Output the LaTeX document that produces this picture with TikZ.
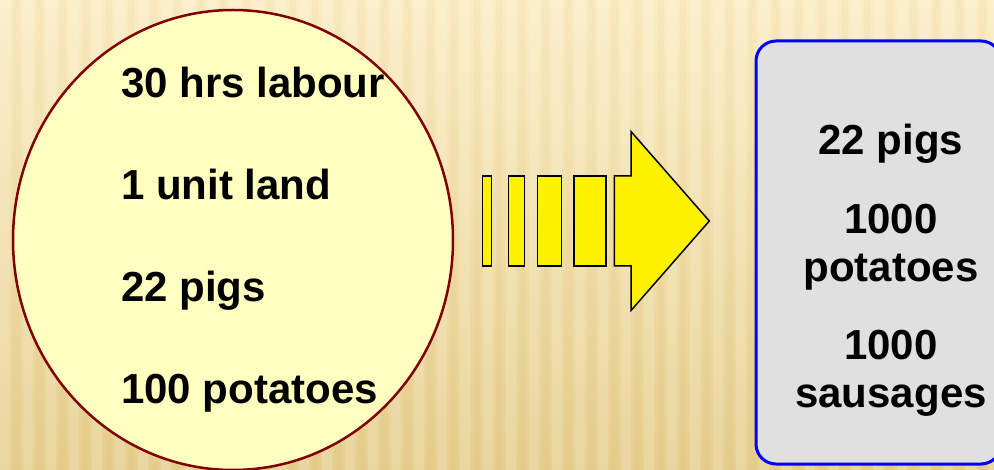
\documentclass[tikz,border=0pt]{standalone}
\usepackage{fontspec}
\setmainfont{Liberation Sans}
\usetikzlibrary{shapes.geometric, positioning}
\definecolor{bgtop}{HTML}{FBEDC4}
\definecolor{bgbot}{HTML}{E6CF8E}
\definecolor{poolfill}{HTML}{FFFFC0}
\definecolor{poolline}{HTML}{800000}
\definecolor{outfill}{HTML}{E0E0E0}

\begin{document}
\begin{tikzpicture}[
        x=1pt, y=-1pt,
        item/.style   ={font=\bfseries\fontsize{42}{48.5}\selectfont, inner sep=0pt},
        inputs/.style ={item, anchor=base west},
        outputs/.style={item, anchor=base, align=center},
        pool/.style   ={ellipse, draw=poolline, line width=2.5pt, fill=poolfill,
                        minimum width=440pt, minimum height=460pt, inner sep=0pt},
        outbox/.style ={rectangle, rounded corners=20pt, draw=blue, line width=3pt,
                        fill=outfill, minimum width=245pt, minimum height=423pt},
        bar/.style    ={draw=black, line width=1.5pt, fill=yellow, line join=miter}
    ]

    % --- background ---
    \useasboundingbox (0,0) rectangle (994,470);
    \shade[top color=bgtop, bottom color=bgbot] (0,0) rectangle (994,470);
    \foreach \i in {0,...,43} {
        \fill[white, opacity=0.16] ({\i*23},0) rectangle ++(10,470);
        \fill[brown, opacity=0.04] ({\i*23+13},0) rectangle ++(7,470);
    }

    % --- inputs ---
    \node[pool] (pool) at (233,240) {};
    \node[inputs] (labour) at (121,98)  {30 hrs labour};
    \node[inputs] (land)   at (121,200) {1 unit land};
    \node[inputs] (pigsin) at (121,302) {22 pigs};
    \node[inputs] (potin)  at (121,404) {100 potatoes};

    % --- arrow ---
    \foreach \xa/\xb in {482.7/491.7, 508.3/524.3, 537.7/561.7, 574/606}
        \draw[bar] (\xa,176) rectangle (\xb,266);
    \draw[bar] (614.3,176) -- (631,176) -- (631,131.5) -- (709.3,221)
        -- (631,310.5) -- (631,266) -- (614.3,266) -- cycle;

    % --- outputs ---
    \node[outbox] (out) at (878.5,252.5) {};
    \node[outputs] (pigsout) at (891,155) {22 pigs};
    \node[outputs] (potout)  at (891,282) {1000\\potatoes};
    \node[outputs] (sausout) at (891,408) {1000\\sausages};

\end{tikzpicture}
\end{document}
